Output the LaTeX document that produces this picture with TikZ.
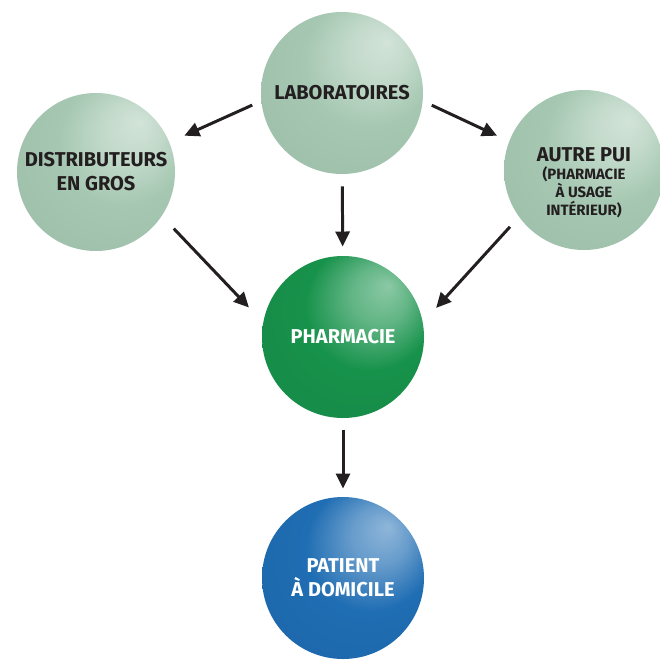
\documentclass[tikz,border=0pt]{standalone}
\usepackage{fontspec}
\setmainfont{Fira Sans}
\usepackage{tikz}
\usetikzlibrary{arrows.meta}

\definecolor{mint}{HTML}{A6C8B2}
\definecolor{pgreen}{HTML}{17924B}
\definecolor{pblue}{HTML}{1F6DB3}
\definecolor{ink}{HTML}{231F20}

% sphere lit from the upper right
\pgfdeclareradialshading[ballcol]{sphere}{\pgfpoint{14bp}{16bp}}{%
  color(0bp)=(ballcol!50!white); color(9bp)=(ballcol!68!white);
  color(20bp)=(ballcol); color(40bp)=(ballcol!94!black);
  color(50bp)=(ballcol!78!black)}

\tikzset{ball/.style={circle, minimum size=3.24cm, inner sep=0pt, align=center,
    font=\bfseries\fontsize{11.4}{13.6}\selectfont,
    /utils/exec={\colorlet{ballcol}{#1}}, shading=sphere, shade}}

\begin{document}
\begin{tikzpicture}[line width = 1.7pt, >={Triangle[length=0.3cm,width=0.28cm]}]
\useasboundingbox (0,0) rectangle (13.2,13.18);
\clip (0,0) rectangle (13.2,13.18);
\draw (6.84,11.32) node[ball = mint, text = ink](lab){LABORATOIRES}
    (1.92,9.74) node[ball = mint, text = ink, minimum size = 3.16cm](dis){DISTRIBUTEURS\\EN GROS}
    (11.68,9.78) node[ball = mint, minimum size = 3.2cm](pui){}
    (6.86,6.44) node[ball = pgreen, text = white](pha){PHARMACIE}
    (6.86,1.62) node[ball = pblue, text = white](pat){PATIENT\\À DOMICILE};
\node[align = center, text = ink, font = \bfseries\fontsize{8.5}{10.2}\selectfont]
    (puitxt) at ([yshift = -0.26cm]pui.center)
    {{\fontsize{11.4}{10.2}\selectfont AUTRE PUI}\\(PHARMACIE\\À USAGE\\INTÉRIEUR)};
    \draw [->, ink, shorten <= 0.17cm, shorten >= 0.3cm] (lab.186) -- (dis.22);
    \draw [->, ink, shorten <= 0.17cm, shorten >= 0.24cm] (lab.354) -- (pui.159);
    \draw [->, ink, shorten <= 0.22cm, shorten >= 0.16cm] (lab) -- (pha);
    \draw [->, ink, shorten <= 0.32cm, shorten >= 0.38cm] (dis.-34) -- (pha.169);
    \draw [->, ink, shorten <= 0.24cm, shorten >= 0.36cm] (pui.216) -- (pha.11);
    \draw [->, ink, shorten <= 0.2cm, shorten >= 0.14cm] (pha) -- (pat);
\end{tikzpicture}
\end{document}
